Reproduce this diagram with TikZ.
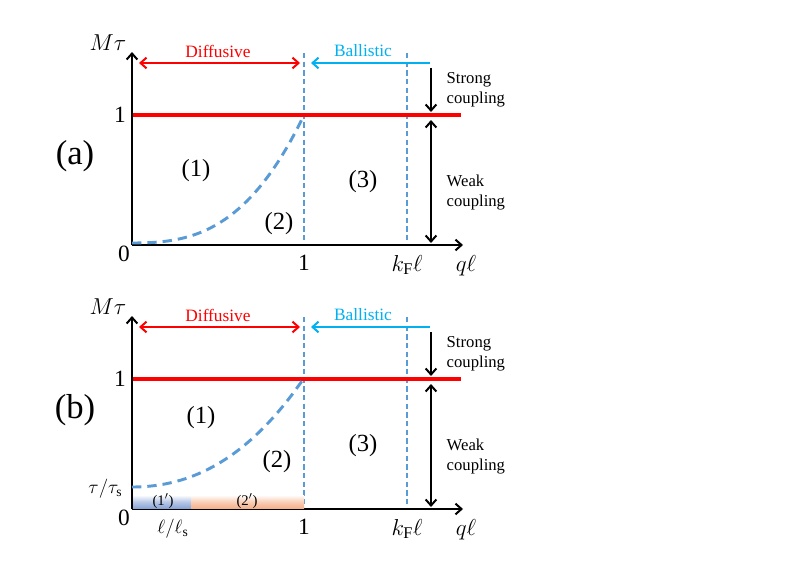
\documentclass[tikz,border=0pt]{standalone}
\usepackage{fontspec}
\setmainfont{Liberation Serif}
\usetikzlibrary{arrows.meta}
\definecolor{myred}{RGB}{255,0,0}
\definecolor{mycyan}{RGB}{0,176,240}
\definecolor{dblue}{RGB}{91,155,213}
\definecolor{sblue}{RGB}{140,165,215}
\definecolor{sorange}{RGB}{244,177,140}
\tikzset{
  barb/.style={-{Straight Barb[length=4.5pt,width=8pt]}},
  dbarb/.style={{Straight Barb[length=4.5pt,width=8pt]}-{Straight Barb[length=4.5pt,width=8pt]}},
  axisline/.style={line width=1.5pt,barb},
  redline/.style={draw=myred,line width=3pt},
  vdash/.style={draw=dblue,line width=1.1pt,dash pattern=on 4pt off 2.5pt},
  cdash/.style={draw=dblue,line width=2.2pt,dash pattern=on 7pt off 4.5pt},
  regime/.style={font=\fontsize{13}{13}\selectfont},
  coup/.style={font=\fontsize{12.5}{15}\selectfont,align=left,anchor=west},
  region/.style={font=\fontsize{18.5}{18.5}\selectfont},
  panel/.style={font=\fontsize{26}{26}\selectfont},
  tick/.style={font=\fontsize{17.5}{17.5}\selectfont},
  mlab/.style={font=\fontsize{17.5}{17.5}\selectfont},
  slab/.style={font=\fontsize{14.5}{14.5}\selectfont},
}
\begin{document}
\begin{tikzpicture}[x=0.75pt,y=-0.75pt]
\useasboundingbox (0,0) rectangle (812,574);
\foreach \p/\o in {a/0,b/264}{
  \begin{scope}[shift={(0,\o)}]
  \coordinate (O\p) at (132,245);
  \coordinate (Y\p) at (132,52);
  \coordinate (X\p) at (463,245);
  \coordinate (R1\p) at (132,115);
  \coordinate (R2\p) at (461,115);
  \coordinate (V1t\p) at (304,53);
  \coordinate (V1b\p) at (304,245);
  \coordinate (V2t\p) at (407,53);
  \coordinate (V2b\p) at (407,245);
  \coordinate (D1\p) at (139,63);
  \coordinate (D2\p) at (300,63);
  \coordinate (B1\p) at (430,63);
  \coordinate (B2\p) at (311,63);
  \coordinate (S1\p) at (431,68);
  \coordinate (S2\p) at (431,112);
  \coordinate (W1\p) at (431,120);
  \coordinate (W2\p) at (431,243);
  \draw[vdash] (V1t\p) -- (V1b\p);
  \draw[vdash] (V2t\p) -- (V2b\p);
  \draw[redline] (R1\p) -- (R2\p);
  \draw[axisline] (O\p) -- (Y\p);
  \draw[axisline] (O\p) -- (X\p);
  \draw[myred,line width=1.5pt,dbarb] (D1\p) -- (D2\p);
  \draw[mycyan,line width=1.5pt,barb] (B1\p) -- (B2\p);
  \draw[line width=1.5pt,barb] (S1\p) -- (S2\p);
  \draw[line width=1.5pt,dbarb] (W1\p) -- (W2\p);
  \node[regime,text=myred] (diff\p) at (218,51) {Diffusive};
  \node[regime,text=mycyan] (ball\p) at (363,51) {Ballistic};
  \node[coup] (strong\p) at (442,90) {Strong\\coupling};
  \node[coup] (weak\p) at (442,193) {Weak\\coupling};
  \node[mlab] (ylab\p) at (108,43) {$M\tau$};
  \node[tick] (one\p) at (120,115) {1};
  \node[tick] (zero\p) at (124,254) {0};
  \node[tick] (xone\p) at (304,263) {1};
  \node[mlab] (kf\p) at (407,265) {$k_{\mathrm{F}}\ell$};
  \node[font=\fontsize{19}{19}\selectfont] (ql\p) at (466,266) {$q\ell$};
  \end{scope}
}
% panel (a)
\draw[cdash] plot[domain=0:1,samples=40] ({132+172*\x},{245-(2+128*\x*\x*(0.2+0.8*\x))});
\node[panel] (pa) at (75,156) {(a)};
\node[region] (a1) at (196,171) {(1)};
\node[region] (a2) at (279,224) {(2)};
\node[region] (a3) at (363,182) {(3)};
% panel (b)
\shade[top color=white,bottom color=sblue,middle color=sblue!60] (133,495) rectangle (191,508);
\shade[top color=white,bottom color=sorange,middle color=sorange!60] (191,495) rectangle (304,508);
\draw[cdash] plot[domain=0:1,samples=40] ({132+172*\x},{509-(22+109*\x*\x*(0.7+0.3*\x))});
\node[panel] (pb) at (75,410) {(b)};
\node[region] (b1) at (201,418) {(1)};
\node[region] (b2) at (277,462) {(2)};
\node[region] (b3) at (363,446) {(3)};
\node[font=\fontsize{11}{11}\selectfont] (b1p) at (163,501) {(1$'$)};
\node[font=\fontsize{11}{11}\selectfont] (b2p) at (247,501) {(2$'$)};
\node[slab,anchor=east] (tts) at (127,489) {$\tau/\tau_{\mathrm{s}}$};
\node[slab] (lls) at (173,529) {$\ell/\ell_{\mathrm{s}}$};
\end{tikzpicture}
\end{document}
